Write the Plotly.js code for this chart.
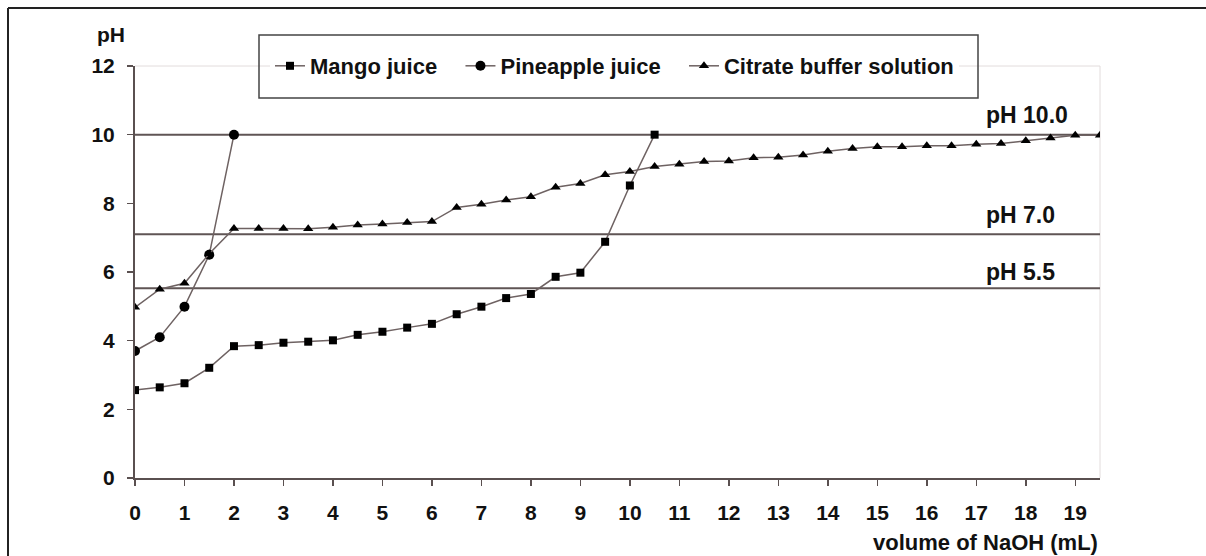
<!DOCTYPE html>
<html>
<head>
<meta charset="utf-8">
<script src="https://cdn.plot.ly/plotly-3.0.1.min.js"></script>
<style>
html,body{margin:0;padding:0;background:#fff;}
#chart{width:1206px;height:556px;}
</style>
</head>
<body>
<div id="chart"></div>
<script>
// NaOH volume (mL)
const mangoX = [0,0.5,1,1.5,2,2.5,3,3.5,4,4.5,5,5.5,6,6.5,7,7.5,8,8.5,9,9.5,10,10.5];
const mangoPH = [2.56,2.64,2.76,3.21,3.84,3.87,3.94,3.97,4.01,4.17,4.26,4.38,4.49,4.77,4.99,5.24,5.36,5.86,5.98,6.88,8.52,10.0];

const pineX = [0,0.5,1,1.5,2];
const pinePH = [3.70,4.10,4.99,6.50,10.0];

const citrateX = [0,0.5,1,1.5,2,2.5,3,3.5,4,4.5,5,5.5,6,6.5,7,7.5,8,8.5,9,9.5,10,10.5,11,11.5,12,12.5,13,13.5,14,14.5,15,15.5,16,16.5,17,17.5,18,18.5,19,19.5];
const citratePH = [4.97,5.50,5.67,6.53,7.27,7.27,7.27,7.26,7.30,7.37,7.40,7.44,7.47,7.88,7.97,8.10,8.19,8.47,8.58,8.83,8.93,9.07,9.14,9.22,9.23,9.33,9.34,9.41,9.52,9.60,9.65,9.65,9.68,9.68,9.72,9.74,9.82,9.90,9.98,9.98];

const seriesNames = ["Mango juice","Pineapple juice","Citrate buffer solution"];
const refLevels = [10.0, 7.1, 5.53];
const refLabels = ["pH 10.0","pH 7.0","pH 5.5"];
const refLabelY = [10.57, 7.66, 6.0];
const xTicks = [0,1,2,3,4,5,6,7,8,9,10,11,12,13,14,15,16,17,18,19];
const yTicks = [0,2,4,6,8,10,12];

const FONT = "Liberation Sans, Arial, sans-serif";
const lineCol = "#6e6262";
const axisCol = "#5a5050";
const NB = "\u00a0";
const legendPad = [NB+NB+NB, NB+NB+NB, ""];

const traces = [
  {x: mangoX, y: mangoPH, name: seriesNames[0] + legendPad[0], mode: "lines+markers",
   line: {color: lineCol, width: 1.5}, marker: {symbol: "square", size: 8, color: "#000"}},
  {x: pineX, y: pinePH, name: seriesNames[1] + legendPad[1], mode: "lines+markers",
   line: {color: lineCol, width: 1.5}, marker: {symbol: "circle", size: 10, color: "#000"}},
  {x: citrateX, y: citratePH, name: seriesNames[2] + legendPad[2], mode: "lines+markers",
   line: {color: lineCol, width: 1.5}, marker: {symbol: "triangle-up", size: 9, color: "#000"}}
];

const shapes = [];
refLevels.forEach(v => shapes.push({type: "line", xref: "x", yref: "y", x0: 0, x1: 19.5, y0: v, y1: v,
  line: {color: "#5f5555", width: 2}, layer: "below"}));
// light plot-area top and right edges
shapes.push({type: "line", xref: "paper", yref: "paper", x0: 0, x1: 1, y0: 1, y1: 1, line: {color: "#e2dcdc", width: 1}, layer: "below"});
shapes.push({type: "line", xref: "paper", yref: "paper", x0: 1, x1: 1, y0: 0, y1: 1, line: {color: "#e2dcdc", width: 1}, layer: "below"});
// outer frame (left and top edges)
shapes.push({type: "line", xref: "paper", yref: "paper", x0: -0.1316, x1: 1.2, y0: 1.1408, y1: 1.1408, line: {color: "#222", width: 2}});
shapes.push({type: "line", xref: "paper", yref: "paper", x0: -0.1316, x1: -0.1316, y0: 1.1408, y1: -0.3, line: {color: "#222", width: 2}});
// legend box
shapes.push({type: "rect", xref: "paper", yref: "paper", x0: (259-135)/965, x1: (978-135)/965, y0: (478-98)/412, y1: (478-35)/412,
  line: {color: "#444", width: 1.5}, fillcolor: "rgba(0,0,0,0)"});

const annotations = refLabels.map((t, i) => ({
  text: "<b>" + t + "</b>", x: 17.16, y: refLabelY[i], xref: "x", yref: "y",
  xanchor: "left", yanchor: "middle", showarrow: false,
  font: {family: FONT, size: 23, color: "#111"}
}));
annotations.push({text: "<b>pH</b>", xref: "paper", yref: "paper", x: (95-135)/965, y: (478-35)/412,
  xanchor: "left", yanchor: "middle", showarrow: false, font: {family: FONT, size: 21, color: "#111"}});
annotations.push({text: "<b>volume of NaOH (mL)</b>", xref: "paper", yref: "paper", x: 1, y: (478-542)/412,
  xanchor: "right", yanchor: "middle", showarrow: false, font: {family: FONT, size: 22, color: "#111"}});

const layout = {
  width: 1206, height: 556,
  margin: {l: 135, r: 106, t: 66, b: 78},
  paper_bgcolor: "#fff", plot_bgcolor: "#fff",
  showlegend: true,
  legend: {orientation: "h", x: (270-135)/965, y: (478-66)/412, xanchor: "left", yanchor: "middle",
    bgcolor: "#fff", borderwidth: 0, font: {family: FONT, size: 22, color: "#111", weight: "bold"}, traceorder: "normal"},
  xaxis: {range: [0, 19.5], tickvals: xTicks, ticktext: xTicks.map(String), showgrid: false, zeroline: false,
    showline: true, linecolor: axisCol, linewidth: 2, ticks: "outside", ticklen: 6, tickcolor: axisCol, tickwidth: 1.5,
    tickfont: {family: FONT, size: 21, color: "#111", weight: "bold"}, ticklabelstandoff: 9, fixedrange: true},
  yaxis: {range: [0, 12], tickvals: yTicks, ticktext: yTicks.map(String), showgrid: false, zeroline: false,
    showline: true, linecolor: axisCol, linewidth: 2, ticks: "outside", ticklen: 6, tickcolor: axisCol, tickwidth: 1.5,
    tickfont: {family: FONT, size: 21, color: "#111", weight: "bold"}, ticklabelstandoff: 8, fixedrange: true},
  shapes: shapes,
  annotations: annotations
};

Plotly.newPlot("chart", traces, layout, {displayModeBar: false, staticPlot: true});
</script>
</body>
</html>
